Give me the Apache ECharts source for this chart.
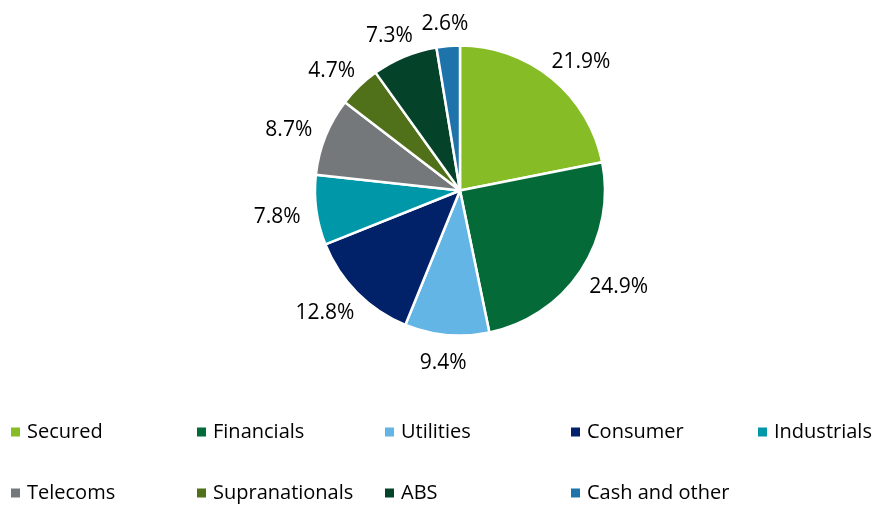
<!DOCTYPE html>
<html>
<head>
<meta charset="utf-8">
<script src="https://cdn.jsdelivr.net/npm/echarts@6/dist/echarts.min.js"></script>
<style>
  html, body { margin: 0; padding: 0; background: #ffffff; }
  #chart { width: 877px; height: 505px; }
</style>
</head>
<body>
<div id="chart"></div>
<script>
const categories = ['Secured', 'Financials', 'Utilities', 'Consumer', 'Industrials', 'Telecoms', 'Supranationals', 'ABS', 'Cash and other'];
const values = [21.9, 24.9, 9.4, 12.8, 7.8, 8.7, 4.7, 7.3, 2.6];
const colors = ['#86BC25', '#046A38', '#62B5E5', '#012169', '#0097A9', '#75787B', '#507119', '#04432A', '#1E74AA'];

// legend columns (category names per column)
const legendColumns = [
  ['Secured', 'Telecoms'],
  ['Financials', 'Supranationals'],
  ['Utilities', 'ABS'],
  ['Consumer', 'Cash and other'],
  ['Industrials']
];

const CX = 460, CY = 190.5, R = 145, GAP = 16, Y_OFF = 3;
const FONT = '"Open Sans", "DejaVu Sans", sans-serif';
const total = values.reduce((a, b) => a + b, 0);

const chart = echarts.init(document.getElementById('chart'), null, { renderer: 'canvas' });

const legendLefts = [11, 197, 385, 571, 758];
const legends = legendColumns.map((col, k) => ({
  orient: 'vertical',
  left: legendLefts[k],
  top: 422,
  height: 90,
  padding: 0,
  itemGap: 41,
  icon: 'rect',
  itemWidth: 9,
  itemHeight: 9,
  itemStyle: { borderWidth: 0 },
  selectedMode: false,
  data: col,
  textStyle: {
    fontFamily: FONT,
    fontSize: 20,
    lineHeight: 20,
    color: '#000000',
    padding: [0, 0, 0, 2]
  }
}));

chart.setOption({
  animation: false,
  backgroundColor: '#ffffff',
  color: colors,
  legend: legends,
  series: [{
    type: 'pie',
    center: [CX, CY],
    radius: R,
    startAngle: 90,
    clockwise: true,
    avoidLabelOverlap: false,
    itemStyle: { borderColor: '#ffffff', borderWidth: 2.5 },
    emphasis: { disabled: true },
    label: {
      show: true,
      position: 'outside',
      fontFamily: FONT,
      fontSize: 21,
      color: '#000000',
      formatter: p => values[p.dataIndex].toFixed(1) + '%'
    },
    labelLine: { show: false },
    labelLayout: function (p) {
      const i = p.dataIndex;
      let cum = 0;
      for (let j = 0; j < i; j++) cum += values[j];
      const th = (cum + values[i] / 2) / total * 2 * Math.PI;
      const dx = Math.sin(th), dy = -Math.cos(th);
      const w = p.labelRect.width, h = 18;
      return {
        x: CX + dx * (R + GAP) + dx * w / 2,
        y: CY + dy * (R + GAP) + dy * h / 2 + Y_OFF,
        align: 'center',
        verticalAlign: 'middle'
      };
    },
    data: categories.map((c, i) => ({ name: c, value: values[i] }))
  }]
});
</script>
</body>
</html>
